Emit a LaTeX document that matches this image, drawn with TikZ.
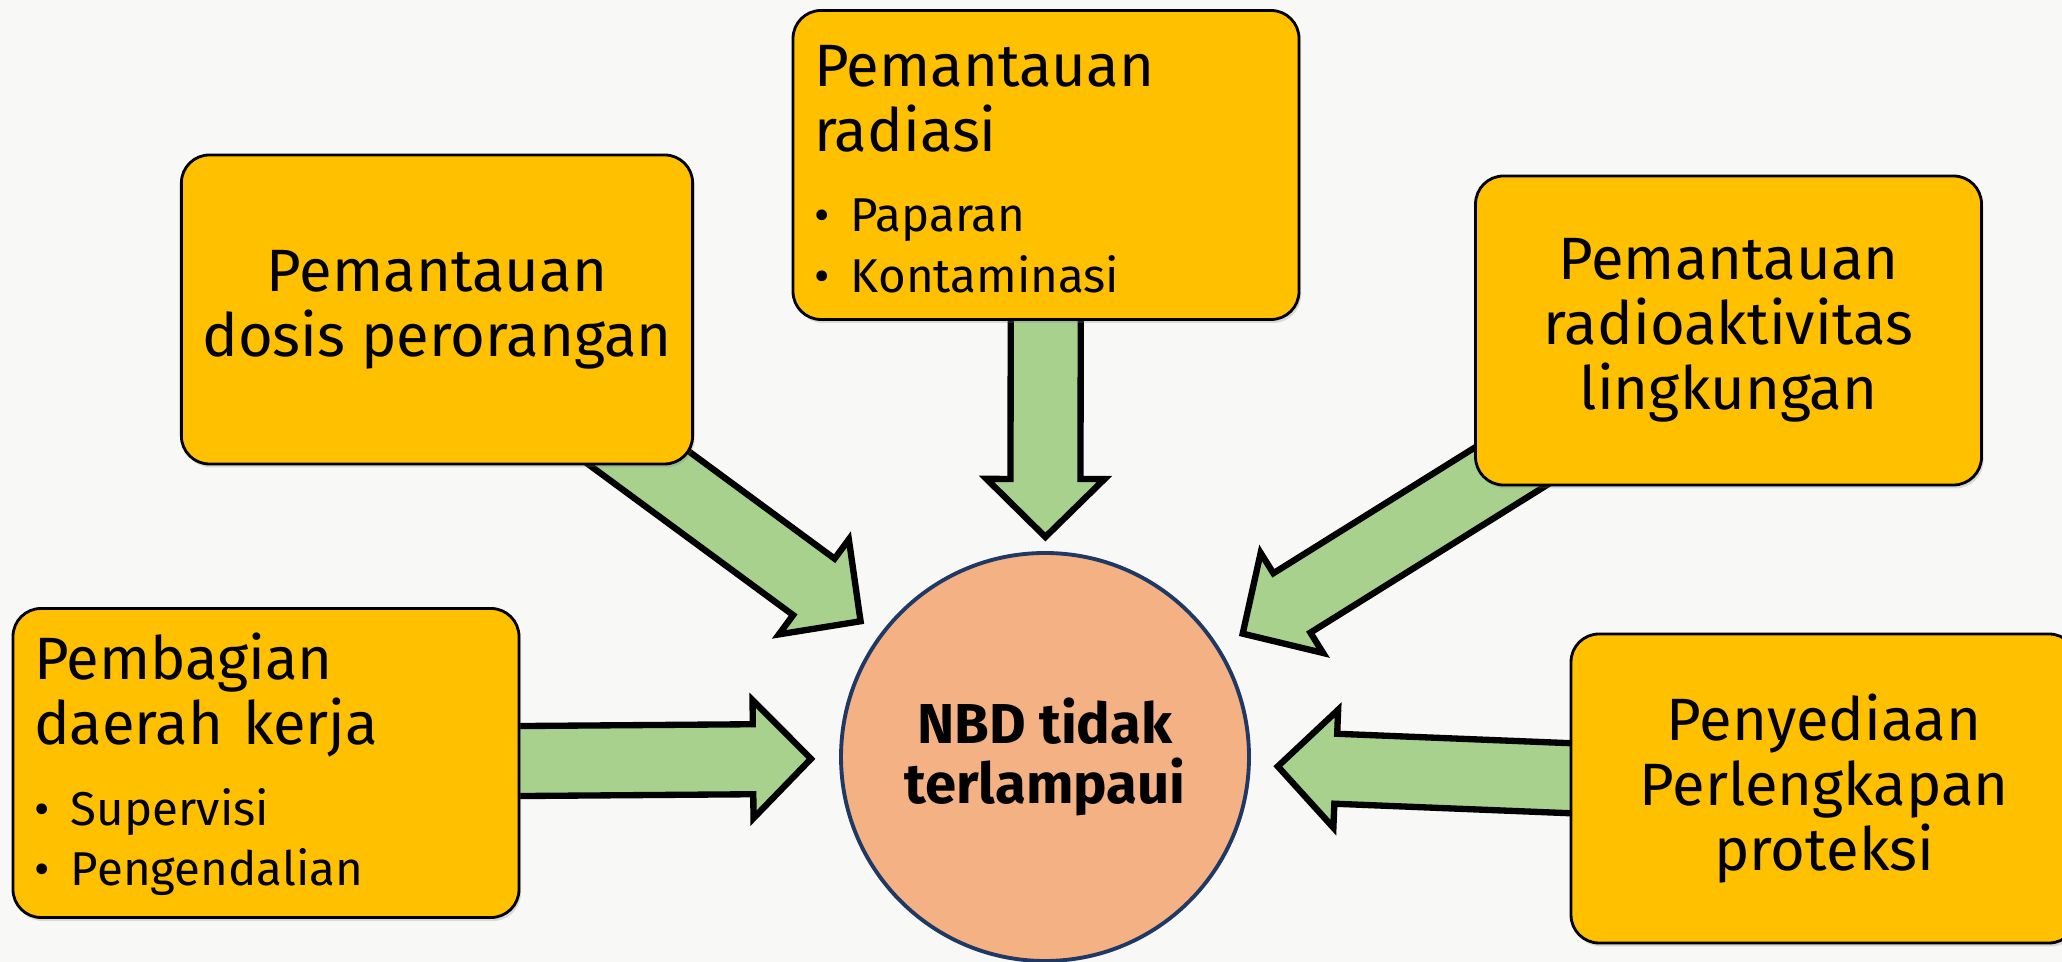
\documentclass[tikz,border=0pt]{standalone}
\usepackage{fontspec}
\setmainfont{Fira Sans}
\usepackage{tikz}
\usetikzlibrary{calc,backgrounds,shadows}
\usepackage{xcolor}

\definecolor{paper}{HTML}{F8F8F7}
\definecolor{boxfill}{HTML}{FFC000}
\definecolor{arrowfill}{HTML}{A9D18E}
\definecolor{goalfill}{HTML}{F4B183}
\definecolor{goalline}{HTML}{203864}

\newcommand{\headfont}{\fontsize{17}{18.5}\selectfont}
\newcommand{\itemfont}{\fontsize{13.5}{17.3}\selectfont}
\newcommand{\blt}{\makebox[0.37cm][l]{•}}

% block arrow from the centre of #1 towards #2, tip #3 away from the centre of #2
\newcommand{\fatarrow}[3]{%
  \coordinate (tip) at ($(#2.center)!#3!(#1.center)$);
  \coordinate (neck) at ($(tip)!0.58cm!(#1.center)$);
  \draw[fat] ($(#1.center)!0.35cm!90:(tip)$) -- ($(neck)!0.35cm!90:(tip)$)
    -- ($(neck)!0.59cm!90:(tip)$) -- (tip) -- ($(neck)!0.59cm!-90:(tip)$)
    -- ($(neck)!0.35cm!-90:(tip)$) -- ($(#1.center)!0.35cm!-90:(tip)$) -- cycle;
}

\begin{document}
\begin{tikzpicture}[font=\headfont,line join=miter,
  task/.style={draw=black,line width=0.8pt,fill=boxfill,rounded corners=0.28cm,
    minimum width=5.06cm,minimum height=3.09cm,inner sep=0.21cm,
    drop shadow={shadow xshift=0.02cm,shadow yshift=-0.035cm,opacity=0.25}},
  listing/.style={text width=4.64cm,align=left},
  fat/.style={draw=black,line width=1.8pt,fill=arrowfill},
  goal/.style={circle,draw=goalline,line width=1.1pt,fill=goalfill,minimum size=4.08cm,
    align=center,font=\fontsize{16}{17}\selectfont\bfseries}]
\useasboundingbox (0,0) rectangle (20.62,9.62);

\node[task,align=center] (dosis) at (4.37,6.525) {Pemantauan\\dosis perorangan};
\node[task,listing] (radiasi) at (10.46,7.97)
  {\rule{0pt}{0.5cm}Pemantauan\\radiasi\par\vspace{5.5pt}{\itemfont\blt Paparan\\\blt Kontaminasi\par}};
\node[task,align=center] (lingkungan) at (17.285,6.315) {Pemantauan\\radioaktivitas\\lingkungan};
\node[task,listing] (daerah) at (2.66,1.99)
  {\rule{0pt}{0.5cm}Pembagian\\daerah kerja\par\vspace{5.5pt}{\itemfont\blt Supervisi\\\blt Pengendalian\par}};
\node[task,align=center] (proteksi) at (18.24,1.735) {Penyediaan\\Perlengkapan\\proteksi};

\node[goal] (nbd) at (10.45,2.05) {NBD tidak\\terlampaui};

\begin{scope}[on background layer]
\fill[paper] (0,0) rectangle (20.62,9.62);
\fatarrow{dosis}{nbd}{2.29cm}
\fatarrow{radiasi}{nbd}{2.2cm}
\fatarrow{lingkungan}{nbd}{2.33cm}
\fatarrow{daerah}{nbd}{2.34cm}
\fatarrow{proteksi}{nbd}{2.33cm}
\end{scope}
\end{tikzpicture}
\end{document}
